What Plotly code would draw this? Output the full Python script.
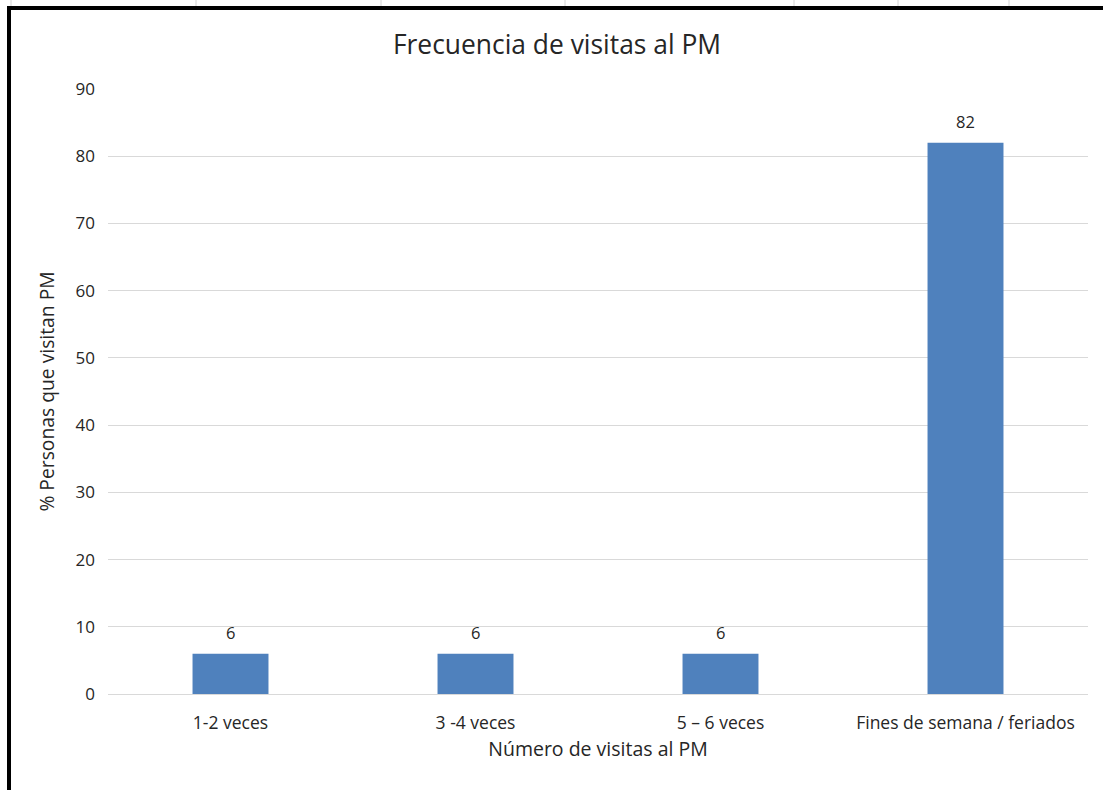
import plotly.graph_objects as go

categories = ["1-2 veces", "3 -4 veces", "5 – 6 veces", "Fines de semana / feriados"]
values = [6, 6, 6, 82]
y_ticks = [0, 10, 20, 30, 40, 50, 60, 70, 80, 90]

title_text = "Frecuencia de visitas al PM"
x_title = "Número de visitas al PM"
y_title = "% Personas que visitan PM"

FONT = "Open Sans, Noto Sans, sans-serif"
W, H = 1103, 790
L, R, T, B = 108, 15, 89, 96
pw, ph = W - L - R, H - T - B

def px_x(px):
    return (px - L) / pw

def px_y(py):
    return (H - B - py) / ph

fig = go.Figure(
    go.Bar(
        x=categories,
        y=values,
        marker=dict(color="#4F81BD", line=dict(width=0)),
        width=0.31,
        hoverinfo="x+y",
    )
)

# data labels above bars
for c, v in zip(categories, values):
    fig.add_annotation(x=c, y=v, text=str(v), showarrow=False, yshift=21,
                       font=dict(size=16.5, color="#262626", family=FONT))

shapes = []
# spreadsheet grid lines visible above the chart border
for gx in [11, 196, 381, 565, 794, 898, 1009]:
    shapes.append(dict(type="line", xref="paper", yref="paper",
                       x0=px_x(gx), x1=px_x(gx), y0=px_y(0), y1=px_y(7),
                       line=dict(color="#d4d4d4", width=1), layer="above"))
# black chart border (top and left)
shapes.append(dict(type="line", xref="paper", yref="paper",
                   x0=px_x(7), x1=px_x(1110), y0=px_y(8), y1=px_y(8),
                   line=dict(color="black", width=4), layer="above"))
shapes.append(dict(type="line", xref="paper", yref="paper",
                   x0=px_x(9), x1=px_x(9), y0=px_y(6), y1=px_y(800),
                   line=dict(color="black", width=4), layer="above"))

fig.update_layout(
    width=W, height=H,
    margin=dict(l=L, r=R, t=T, b=B),
    paper_bgcolor="white", plot_bgcolor="white",
    font=dict(family=FONT, color="#404040", size=16),
    showlegend=False,
    title=dict(text=title_text, x=0.505, xanchor="center", y=1 - 45 / H, yanchor="middle",
               font=dict(size=26.4, color="#262626", family=FONT)),
    xaxis=dict(
        title=dict(text=x_title, font=dict(size=19.5, color="#262626"), standoff=9),
        showgrid=False, showline=False, ticks="",
        tickfont=dict(size=17.5, color="#262626"),
        ticklabelstandoff=16,
    ),
    yaxis=dict(
        range=[0, 90], tickvals=y_ticks, showgrid=True, gridcolor="#d9d9d9", gridwidth=1,
        zeroline=True, zerolinecolor="#d9d9d9", zerolinewidth=1,
        ticks="", ticklen=0, showline=False,
        tickfont=dict(size=17, color="#262626"),
        ticklabelstandoff=12,
        title=dict(text=y_title, font=dict(size=19.3, color="#262626"), standoff=15),
    ),
    shapes=shapes,
)

fig.write_html("out.html", config={"displayModeBar": False},
               post_script="document.body.style.margin='0';document.body.style.overflow='hidden';")
